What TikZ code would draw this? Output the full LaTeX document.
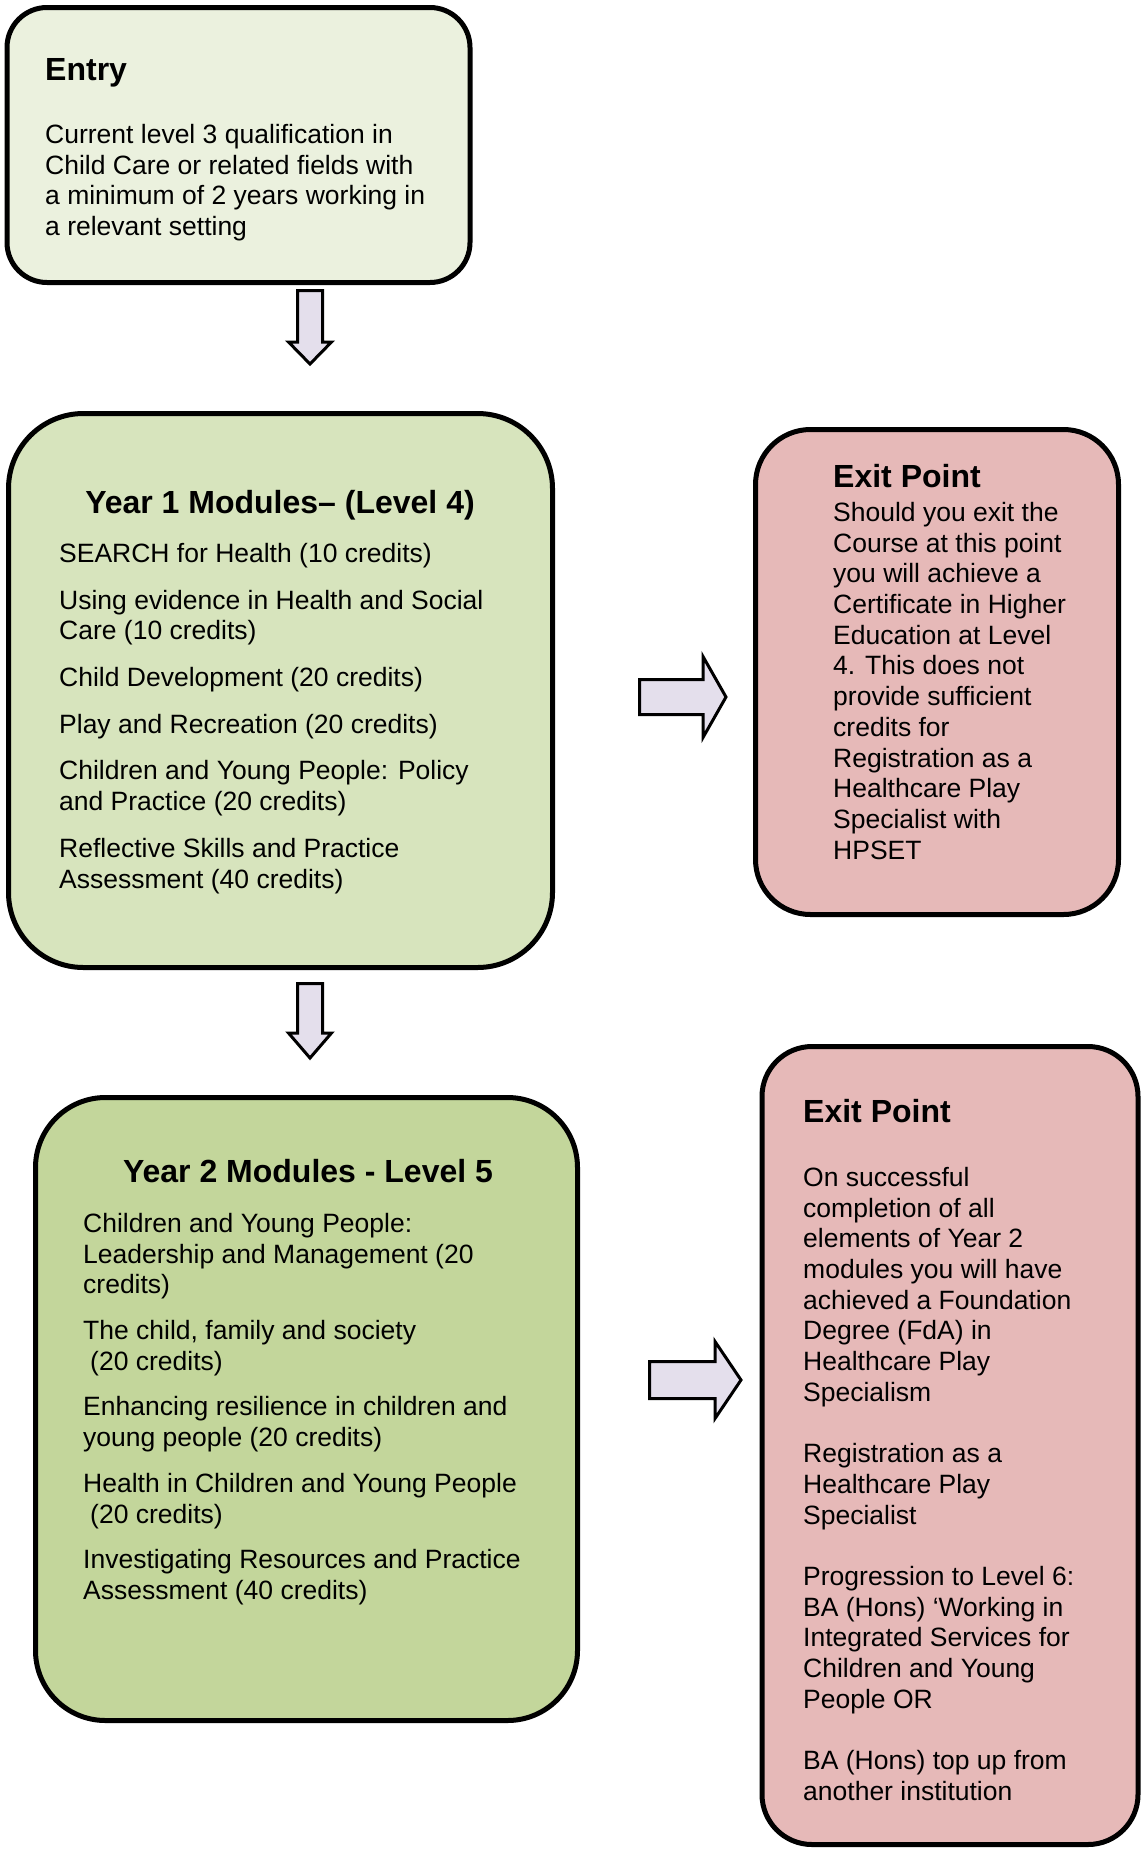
\documentclass[tikz,border=0pt]{standalone}
\usepackage{fontspec}
\setmainfont{Liberation Sans}

\definecolor{entrygreen}{HTML}{EBF1DE}
\definecolor{yearonegreen}{HTML}{D7E4BD}
\definecolor{yeartwogreen}{HTML}{C3D69B}
\definecolor{exitpink}{HTML}{E6B9B8}
\definecolor{arrowlilac}{HTML}{E4DFEC}

\tikzset{
  box/.style={draw=black, line width=5pt, rounded corners=#1, inner sep=0pt},
  headtext/.style={font=\fontsize{32}{37}\selectfont\bfseries, inner sep=0pt},
  bodytext/.style={font=\fontsize{26.5}{30.7}\selectfont, align=left, inner sep=0pt, anchor=north west},
  blockarrow/.style={draw=black, line width=3pt, fill=arrowlilac, line join=miter}
}

\begin{document}
\begin{tikzpicture}[x=1pt, y=-1pt]
    \useasboundingbox (0,0) rectangle (1141,1850);

    % boxes
    \node[box=40pt, fill=entrygreen, minimum width=463pt, minimum height=275pt] (entry) at (238.5,145) {};
    \node[box=75pt, fill=yearonegreen, minimum width=544pt, minimum height=554pt] (year1) at (280.5,690.5) {};
    \node[box=55pt, fill=exitpink, minimum width=363pt, minimum height=485pt] (exit1) at (937,672) {};
    \node[box=70pt, fill=yeartwogreen, minimum width=542pt, minimum height=623pt] (year2) at (306.5,1409) {};
    \node[box=50pt, fill=exitpink, minimum width=376pt, minimum height=798pt] (exit2) at (950,1445.5) {};

    % texts
    \node[headtext, anchor=base west] (entryhead) at (45,80) {Entry};
    \node[bodytext] (entrybody) at (45,124) {Current level 3 qualification in\\Child Care or related fields with\\a minimum of 2 years working in\\a relevant setting};

    \node[headtext, anchor=base] (year1head) at (280,513) {Year 1 Modules– (Level 4)};
    \node[bodytext] (year1body) at (59,543) {SEARCH for Health (10 credits)\\[16pt]
        Using evidence in Health and Social\\Care (10 credits)\\[16pt]
        Child Development (20 credits)\\[16pt]
        Play and Recreation (20 credits)\\[16pt]
        Children and Young People: Policy\\and Practice (20 credits)\\[16pt]
        Reflective Skills and Practice\\Assessment (40 credits)};

    \node[headtext, anchor=base west] (exit1head) at (833,487) {Exit Point};
    \node[bodytext] (exit1body) at (833,502) {Should you exit the\\Course at this point\\you will achieve a\\Certificate in Higher\\Education at Level\\4. This does not\\provide sufficient\\credits for\\Registration as a\\Healthcare Play\\Specialist with\\HPSET};

    \node[headtext, anchor=base] (year2head) at (308,1182) {Year 2 Modules - Level 5};
    \node[bodytext] (year2body) at (83,1213) {Children and Young People:\\Leadership and Management (20\\credits)\\[15pt]
        The child, family and society\\\hspace{7pt}(20 credits)\\[15pt]
        Enhancing resilience in children and\\young people (20 credits)\\[15pt]
        Health in Children and Young People\\\hspace{7pt}(20 credits)\\[15pt]
        Investigating Resources and Practice\\Assessment (40 credits)};

    \node[headtext, anchor=base west] (exit2head) at (803,1122) {Exit Point};
    \node[bodytext] (exit2body) at (803,1167) {On successful\\completion of all\\elements of Year 2\\modules you will have\\achieved a Foundation\\Degree (FdA) in\\Healthcare Play\\Specialism\\[30.7pt]
        Registration as a\\Healthcare Play\\Specialist\\[30.7pt]
        Progression to Level 6:\\BA (Hons) ‘Working in\\Integrated Services for\\Children and Young\\People OR\\[30.7pt]
        BA (Hons) top up from\\another institution};

    % arrows
    \coordinate (down1) at (310,289);
    \coordinate (down2) at (310,982);
    \coordinate (right1) at (638,697);
    \coordinate (right2) at (648,1380);
    \draw[blockarrow, shift={(down1)}] (-12.5,1.5) -- (12.5,1.5) -- (12.5,53) -- (21.5,53) -- (0,75) -- (-21.5,53) -- (-12.5,53) -- cycle;
    \draw[blockarrow, shift={(down2)}] (-12.5,1.5) -- (12.5,1.5) -- (12.5,51) -- (21.5,51) -- (0,76) -- (-21.5,51) -- (-12.5,51) -- cycle;
    \draw[blockarrow, shift={(right1)}] (1.5,-17.5) -- (65,-17.5) -- (65,-40.5) -- (88,0) -- (65,40.5) -- (65,17.5) -- (1.5,17.5) -- cycle;
    \draw[blockarrow, shift={(right2)}] (1.5,-18.5) -- (67,-18.5) -- (67,-38.5) -- (93,0) -- (67,38.5) -- (67,18.5) -- (1.5,18.5) -- cycle;
\end{tikzpicture}
\end{document}
